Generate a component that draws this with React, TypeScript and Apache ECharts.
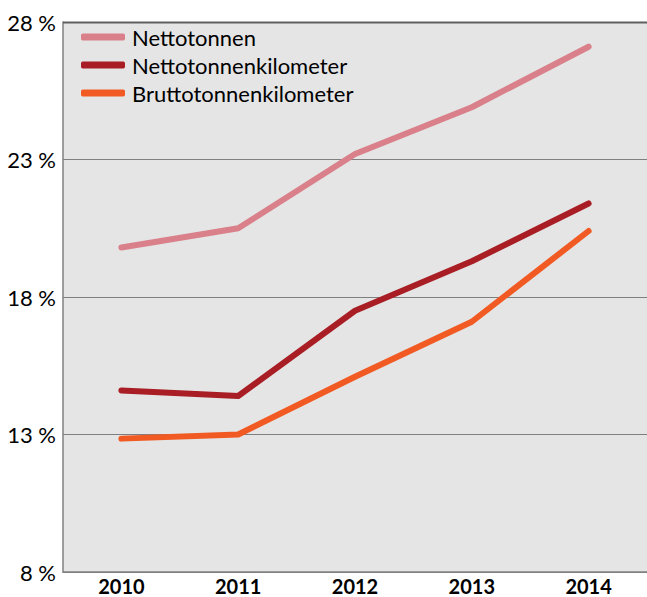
import React, { useEffect, useRef } from "react";
import * as echarts from "echarts";

const years = ["2010", "2011", "2012", "2013", "2014"];
const nettotonnen = [19.8, 20.5, 23.2, 24.9, 27.1];
const nettotonnenkilometer = [14.6, 14.4, 17.5, 19.3, 21.4];
const bruttotonnenkilometer = [12.85, 13.0, 15.1, 17.1, 20.4];
const seriesNames = ["Nettotonnen", "Nettotonnenkilometer", "Bruttotonnenkilometer"];
const colors = ["#d9808a", "#a81e24", "#f15a22"];

export default function App() {
  const ref = useRef<HTMLDivElement>(null);
  useEffect(() => {
    if (!ref.current) return;
    const chart = echarts.init(ref.current, null, { renderer: "svg" });
    const font = "Lato, 'Open Sans', sans-serif";
    const data = [nettotonnen, nettotonnenkilometer, bruttotonnenkilometer];
    chart.setOption({
      animation: false,
      textStyle: { fontFamily: font },
      grid: {
        left: 63,
        top: 22,
        width: 585,
        height: 550,
        show: true,
        backgroundColor: "#e5e5e5",
        borderWidth: 0,
      },
      legend: {
        orient: "vertical",
        left: 76,
        top: 21,
        itemWidth: 44,
        itemHeight: 7,
        itemGap: 6,
        icon: "roundRect",
        textStyle: { fontFamily: font, fontSize: 22, color: "#000", padding: [0, 0, 0, 2] },
        data: seriesNames,
      },
      xAxis: {
        type: "category",
        data: years,
        boundaryGap: true,
        axisLine: { show: true, lineStyle: { color: "#808080", width: 1.5 } },
        axisTick: { show: false },
        axisLabel: {
          color: "#000",
          fontSize: 20,
          lineHeight: 20,
          fontWeight: "bold",
          fontFamily: font,
          margin: 4,
        },
        splitLine: { show: false },
      },
      yAxis: [
        {
          type: "value",
          min: 8,
          max: 28,
          interval: 5,
          axisLine: { show: true, lineStyle: { color: "#808080", width: 1.5 } },
          axisTick: { show: false },
          axisLabel: {
            color: "#000",
            fontSize: 22,
            fontFamily: font,
            margin: 7,
            formatter: (v: number) => `${v} %`,
          },
          splitLine: { show: true, lineStyle: { color: "#7f7f7f", width: 1 } },
        },
      ],
      series: seriesNames.map((name, i) => ({
        name,
        type: "line",
        data: data[i],
        showSymbol: false,
        symbol: "none",
        itemStyle: { color: colors[i] },
        lineStyle: { color: colors[i], width: 6, cap: "round", join: "round" },
      })),
      graphic: [
        {
          type: "line",
          shape: { x1: 63, y1: 22.5, x2: 647, y2: 22.5 },
          style: { stroke: "#606060", lineWidth: 2 },
          z: 100,
        },
      ],
    });
    return () => chart.dispose();
  }, []);
  return <div ref={ref} style={{ width: 647, height: 597, position: "absolute", left: 0, top: 0 }} />;
}
